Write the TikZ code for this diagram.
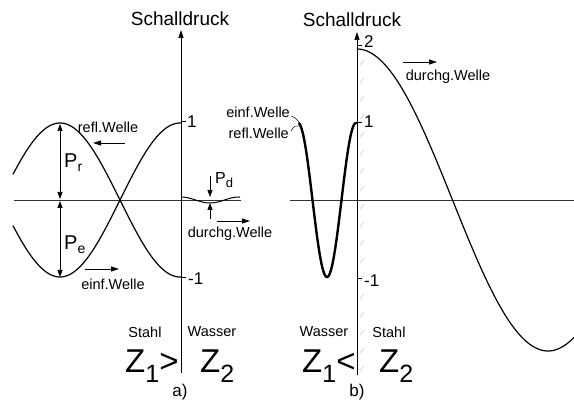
\documentclass[tikz,border=0pt]{standalone}
\usepackage{fontspec}
\setmainfont{Liberation Sans}
\usetikzlibrary{arrows.meta}
\begin{document}
\begin{tikzpicture}[x=1pt,y=-1pt,
  axisline/.style={line width=0.6pt,-{Triangle[length=8pt,width=5pt]}},
  baseline/.style={line width=0.6pt,black!80},
  wave/.style={line width=1.2pt,line join=round},
  thickwave/.style={line width=2.4pt,line join=round},
  dirarrow/.style={line width=0.8pt,-{Triangle[length=8pt,width=5pt]}},
  dimarrow/.style={line width=0.7pt,{Triangle[length=7pt,width=5pt]}-{Triangle[length=7pt,width=5pt]}},
  dimtip/.style={line width=0.7pt,-{Triangle[length=7pt,width=5pt]}},
  small/.style={font=\fontsize{14.5}{15}\selectfont,inner sep=0pt},
  title/.style={font=\fontsize{19}{20}\selectfont,inner sep=0pt},
  ticklbl/.style={font=\fontsize{17}{18}\selectfont,inner sep=0pt,anchor=west},
  bigz/.style={font=\fontsize{33}{34}\selectfont,inner sep=0pt,anchor=base west},
  plbl/.style={font=\fontsize{20}{21}\selectfont,inner sep=0pt,anchor=base west},
  hatch/.style={line width=0.5pt,black!22}]
\useasboundingbox (0,0) rectangle (574,403);

% ---------------- panel a ----------------
\coordinate (aTop) at (181,30);
\coordinate (aBot) at (181,373);
\coordinate (aL) at (14,200);
\coordinate (aR) at (241,200);
\draw[baseline] (aL) -- (aR);
\draw[axisline] (aBot) -- (aTop);
\node[title] (aTitle) at (180,19) {Schalldruck};
% ticks
\draw[line width=0.6pt] (181,121) -- (186,121);
\draw[line width=0.6pt] (181,277) -- (186,277);
\node[ticklbl] (a1) at (187,122) {1};
\node[ticklbl] (am1) at (188,279) {-1};
% waves
\draw[wave] plot[domain=13:181,samples=120] (\x,{200-77*cos(1.5*(\x-60))});
\draw[wave] plot[domain=13:181,samples=120] (\x,{200+77*cos(1.5*(\x-60))});
\draw[line width=1pt] plot[domain=181:240,samples=60] (\x,{200-3*cos(6.2069*(\x-181))});
% amplitudes
\coordinate (prT) at (60,124);
\coordinate (prB) at (60,199);
\coordinate (peT) at (60,201);
\coordinate (peB) at (60,277);
\draw[dimarrow] (prT) -- (prB);
\draw[dimarrow] (peT) -- (peB);
\node[plbl] (Pr) at (64,168) {P\raisebox{-4pt}{\fontsize{14}{14}\selectfont r}};
\node[plbl] (Pe) at (64,250) {P\raisebox{-4pt}{\fontsize{14}{14}\selectfont e}};
\coordinate (pdA) at (210,176);
\coordinate (pdAt) at (210,197);
\coordinate (pdB) at (210,219);
\coordinate (pdBt) at (210,203);
\draw[dimtip] (pdA) -- (pdAt);
\draw[dimtip] (pdB) -- (pdBt);
\node[font=\fontsize{16}{16}\selectfont,inner sep=0pt,anchor=base west] (Pd) at (215,184) {P\raisebox{-4pt}{\fontsize{13}{13}\selectfont d}};
% direction labels
\node[small] (aRefl) at (108,127) {refl.Welle};
\coordinate (arS) at (125,143);
\coordinate (arE) at (93,143);
\draw[dirarrow] (arS) -- (arE);
\node[small] (aEinf) at (113,284) {einf.Welle};
\coordinate (aeS) at (85,269);
\coordinate (aeE) at (119,269);
\draw[dirarrow] (aeS) -- (aeE);
\node[small] (aDurch) at (230,234) {durchg.Welle};
\coordinate (adS) at (217,221);
\coordinate (adE) at (250,221);
\draw[dirarrow] (adS) -- (adE);
% media
\node[small] (aStahl) at (145,332) {Stahl};
\node[small] (aWasser) at (212,332) {Wasser};
\node[bigz] (aZ1) at (125,373) {Z\raisebox{-10pt}{\fontsize{25}{25}\selectfont 1}>};
\node[bigz] (aZ2) at (200,373) {Z\raisebox{-10pt}{\fontsize{25}{25}\selectfont 2}};
\node[font=\fontsize{17}{18}\selectfont,inner sep=0pt] (aLab) at (180,392) {a)};

% ---------------- panel b ----------------
\coordinate (bTop) at (357,32);
\coordinate (bBot) at (357,375);
\coordinate (bL) at (290,200);
\coordinate (bR) at (574,200);
\foreach \yy in {62,80,...,370} {\draw[hatch] (360,\yy+3) -- (364,\yy-2);}
\draw[baseline] (bL) -- (bR);
\draw[axisline] (bBot) -- (bTop);
\node[title] (bTitle) at (352,20) {Schalldruck};
\draw[line width=0.6pt] (357,45) -- (362,45);
\draw[line width=0.6pt] (357,122) -- (362,122);
\draw[line width=0.6pt] (357,278) -- (362,278);
\node[ticklbl] (b2) at (364,42) {2};
\node[ticklbl] (b1) at (364,122) {1};
\node[ticklbl] (bm1) at (364,281) {-1};
% waves
\draw[thickwave] plot[domain=298.5:357,samples=120] (\x,{200+77*cos(6.2069*(\x-327))});
\draw[wave] plot[domain=357:574,samples=150] (\x,{200-151*cos(0.94241*(\x-357))});
% labels of the thick wave
\node[small,anchor=east] (bEinf) at (290,112) {einf.Welle};
\node[small,anchor=east] (bRefl) at (289,133) {refl.Welle};
\coordinate (bEc) at (300,124);
\coordinate (bRc) at (298.5,126);
\draw[line width=0.5pt] (bEinf.east) ++(1,4) .. controls (296,118) and (297,119) .. (bEc);
\draw[line width=0.5pt] (bRefl.east) ++(2,-2) .. controls (294,126) and (296,125) .. (bRc);
% direction of transmitted wave
\coordinate (bdS) at (403,62);
\coordinate (bdE) at (437,62);
\draw[dirarrow] (bdS) -- (bdE);
\node[small] (bDurch) at (448,77) {durchg.Welle};
% media
\node[small] (bWasser) at (324,332) {Wasser};
\node[small] (bStahl) at (389,332) {Stahl};
\node[bigz] (bZ1) at (302,373) {Z\raisebox{-10pt}{\fontsize{25}{25}\selectfont 1}<};
\node[bigz] (bZ2) at (379,373) {Z\raisebox{-10pt}{\fontsize{25}{25}\selectfont 2}};
\node[font=\fontsize{17}{18}\selectfont,inner sep=0pt] (bLab) at (357,392) {b)};
\end{tikzpicture}
\end{document}
